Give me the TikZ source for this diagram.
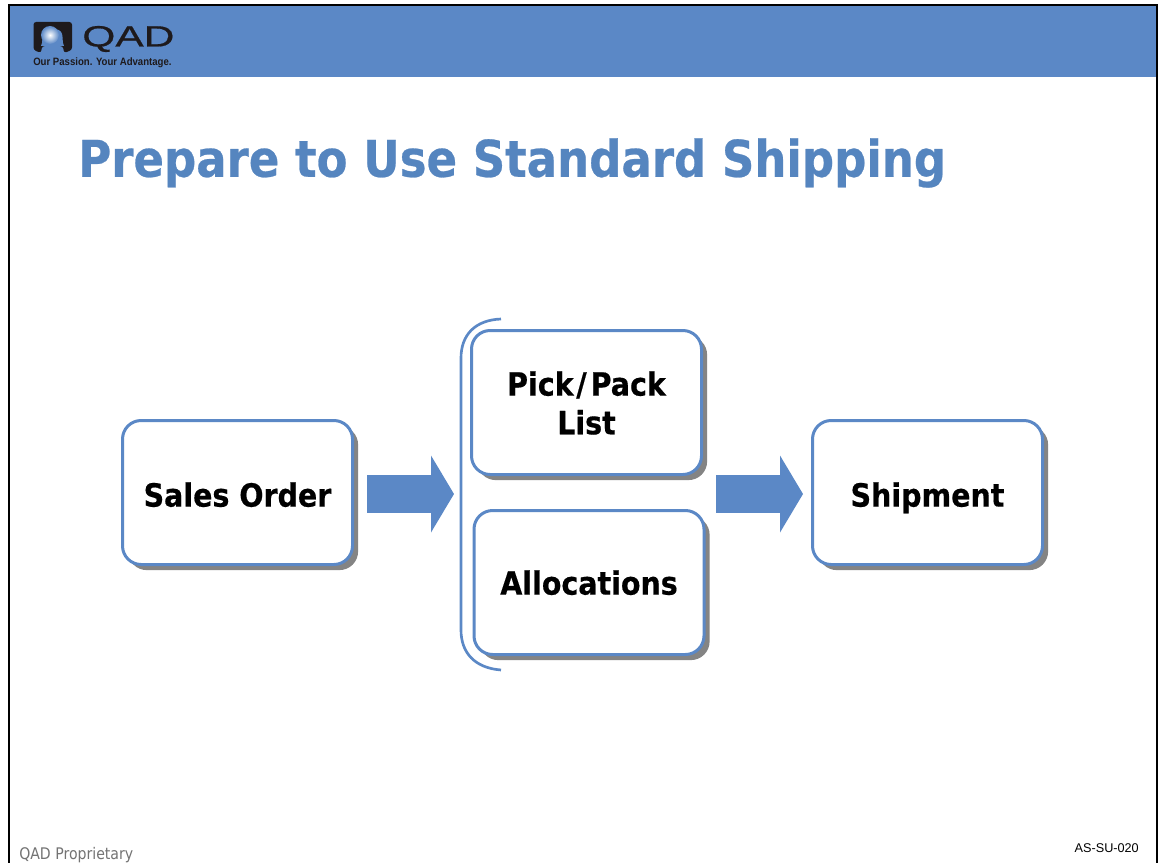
\documentclass[tikz,border=0pt]{standalone}
\usepackage{fontspec}
\usepackage{xcolor}
\usetikzlibrary{arrows.meta,shadows}
\newfontfamily\tahoma[FakeStretch=0.89,BoldFeatures={FakeStretch=0.89,FakeBold=0.5}]{DejaVu Sans}
\newfontfamily\tahomafoot[FakeStretch=0.88]{DejaVu Sans}
\newfontfamily\arialfont{Liberation Sans}
\newfontfamily\logowide[FakeStretch=1.45,FakeBold=0.6]{Liberation Sans}
\newfontfamily\logonarrow[FakeStretch=0.9]{Liberation Sans}
\definecolor{qadblue}{HTML}{5B88C6}
\definecolor{titleblue}{HTML}{5585BF}
\definecolor{shadowgray}{HTML}{848484}
\definecolor{logoblack}{HTML}{1E1A1C}

\begin{document}
\begin{tikzpicture}[x=0.75pt,y=0.75pt,yscale=-1,
    stepbox/.style={align=center, minimum width=172.5pt, minimum height=108pt, draw=qadblue, line width=2.25pt, rounded corners=14pt, fill=white, font=\tahoma\bfseries\fontsize{24}{29}\selectfont, drop shadow={shadow xshift=4.2pt, shadow yshift=-4.2pt, fill=shadowgray, opacity=1}},
    oneline/.style={text height=22pt, text depth=0.8pt},
    flowarrow/.style={draw=qadblue, line width=28.5pt, -{Triangle[length=17.25pt,width=57pt,fill=qadblue]}},
    bracket/.style={draw=qadblue, line width=2pt}]

    \useasboundingbox (0,0) rectangle (1159,863);
    \fill [white] (0,0) rectangle (1159,863);

    % header band and frame
    \fill [qadblue] (9,5) rectangle (1157,77);
    \draw [black, line width=2.1pt] (9,863) -- (9,5) -- (1157,5) -- (1157,863);

    % logo
    \fill [logoblack, rounded corners=2pt] (33.5,22) -- (72,22) -- (72,50) -- (64,53) -- (63,46) -- (42,46) -- (41,53) -- (33.5,50) -- cycle;
    \fill [qadblue] (41,46) .. controls (43,42) and (42,36) .. (43,34) .. controls (44,27) and (61,27) .. (62,34) .. controls (63,36) and (62,42) .. (64,46) -- cycle;
    \shade [inner color=white, outer color=qadblue] (50,35) circle [radius=9];
    \draw (82,39) node [anchor=west, inner sep=0pt, text=logoblack, font=\logowide\fontsize{22}{24}\selectfont] (logoname) {QAD};
    \draw (33,63) node [anchor=west, inner sep=0pt, text=logoblack, font=\logonarrow\bfseries\fontsize{8}{10}\selectfont] (tagline) {Our Passion. Your Advantage.};

    \draw (78,163) node [anchor=west, inner sep=0pt, text=titleblue, font=\tahoma\bfseries\fontsize{37.95}{45}\selectfont] (title) {Prepare to Use Standard Shipping};

    \draw (237.5,492.5) node [stepbox, oneline] (order) {Sales Order};
    \draw (586.5,402.5) node [stepbox, text height=48pt] (pick) {Pick\kern2pt/\kern3pt Pack\\List};
    \draw (589,582.5) node [stepbox, text height=19pt, text depth=0.8pt] (alloc) {Allocations};
    \draw (927.5,492.5) node [stepbox, oneline] (ship) {Shipment};

    \draw [bracket] (501,319) .. controls (475,320) and (461,335) .. (461,358) -- (461,630) .. controls (461,653) and (475,668) .. (501,670);

    \coordinate (groupin) at (454,494);
    \coordinate (groupout) at (716,494);
    \draw [flowarrow, shorten <=10pt] (order.east |- groupin) -- (groupin);
    \draw [flowarrow, shorten >=6pt] (groupout) -- (ship.west |- groupout);

    \draw (19,855) node [anchor=west, inner sep=0pt, text=black!55, font=\tahomafoot\fontsize{12}{14}\selectfont] (proprietary) {QAD Proprietary};
    \draw (1139,848) node [anchor=east, inner sep=0pt, font=\arialfont\fontsize{9.5}{11}\selectfont] (code) {AS-SU-020};

\end{tikzpicture}
\end{document}
